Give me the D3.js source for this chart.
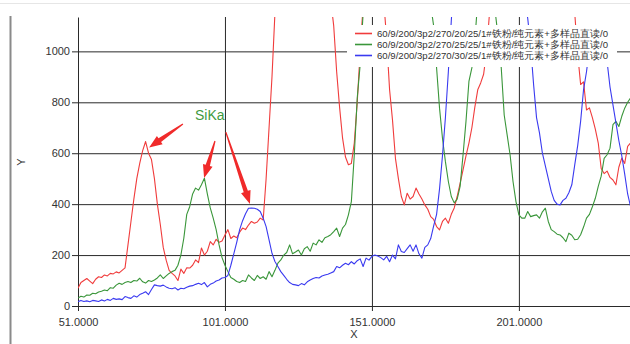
<!DOCTYPE html>
<html>
<head>
<meta charset="utf-8">
<script src="https://cdn.jsdelivr.net/npm/d3@7"></script>
<style>
  html, body { margin: 0; padding: 0; background: #fff; }
  svg { display: block; }
  text { font-family: "Liberation Sans", Arial, sans-serif; }
</style>
</head>
<body>
<svg id="chart" width="630" height="344"></svg>
<script>
// Spectrum channels (X) and intensities (Y) for the three scan settings
const channelStart = 51, channelEnd = 239;
const channels = d3.range(channelStart, channelEnd + 1, 1);

const seriesNames = [
  "60/9/200/3p2/270/20/25/1#铁粉/纯元素+多样品直读/0",
  "60/9/200/3p2/270/25/25/1#铁粉/纯元素+多样品直读/0",
  "60/9/200/3p2/270/30/25/1#铁粉/纯元素+多样品直读/0"
];
const seriesColors = ["#f03c3c", "#3a963a", "#3a3af0"];

const red = [
  70, 92, 100, 108, 98, 88, 105, 115, 112, 122,
  118, 128, 126, 134, 130, 140, 150, 240, 330, 420,
  500, 560, 610, 646, 600, 575, 500, 400, 320, 230,
  180, 140, 128, 118, 100, 145, 128, 150, 149, 160,
  181, 170, 228, 200, 215, 253, 240, 262, 250, 255,
  279, 300, 265, 275, 268, 290, 306, 300, 318, 332,
  325, 330, 345, 338, 500, 700, 900, 1150, 1450, 1750,
  2050, 2300, 2500, 2650, 2750, 2800, 2780, 2700, 2550, 2400,
  2200, 2000, 1800, 1600, 1450, 1300, 1200, 1100, 920, 780,
  660, 585, 555, 560, 640, 800, 1000, 1180, 1400, 1600,
  1700, 1650, 1500, 1350, 1200, 1050, 850, 730, 580, 500,
  430, 397, 443, 420, 430, 463, 440, 420, 397, 380,
  351, 340, 312, 299, 332, 345, 325, 360, 385, 430,
  482, 535, 590, 640, 700, 780, 849, 876, 910, 1000,
  1150, 1300, 1450, 1600, 1700, 1800, 1850, 1800, 1700, 1600,
  1500, 1450, 1500, 1600, 1750, 1900, 2000, 2050, 2000, 1900,
  1800, 1650, 1500, 1400, 1300, 1250, 1200, 1180, 1160, 1150,
  990, 870, 880, 770, 778, 740, 695, 640, 540, 520,
  530, 505, 495, 476, 545, 581, 560, 627, 640
];

const green = [
  31, 38, 35, 43, 42, 50, 48, 55, 58, 63,
  60, 72, 70, 82, 89, 85, 92, 96, 92, 100,
  98, 109, 95, 90, 100, 96, 102, 110, 122, 108,
  118, 128, 135, 140, 160, 200, 266, 360, 390, 440,
  463, 455, 476, 502, 440, 385, 345, 300, 240, 190,
  160, 135, 112, 105, 96, 92, 100, 96, 122, 110,
  100, 120, 108, 115, 105, 135, 115, 140, 168, 181,
  200, 210, 240, 205, 212, 220, 200, 225, 233, 215,
  247, 240, 260, 250, 268, 273, 280, 292, 306, 273,
  306, 320, 358, 410, 594, 817, 948, 1150, 1400, 1650,
  1900, 2100, 2250, 2350, 2400, 2380, 2300, 2200, 2050, 1900,
  1750, 1600, 1500, 1400, 1350, 1300, 1280, 1260, 1240, 1220,
  1180, 1100, 935, 777, 659, 567, 489, 430, 405, 420,
  470, 594, 725, 882, 935, 1040, 1200, 1400, 1500, 1550,
  1500, 1350, 1150, 1050, 935, 750, 672, 594, 489, 410,
  358, 345, 345, 371, 351, 355, 358, 345, 370, 384,
  332, 300, 292, 282, 279, 268, 253, 286, 278, 260,
  262, 280, 310, 345, 360, 390, 423, 470, 510, 580,
  594, 620, 712, 725, 705, 745, 777, 800, 817
];

const blue = [
  17, 22, 18, 20, 17, 22, 20, 18, 24, 20,
  26, 22, 30, 26, 28, 25, 37, 33, 30, 40,
  35, 45, 50, 56, 45, 65, 83, 80, 78, 82,
  75, 70, 68, 72, 63, 70, 68, 74, 78, 80,
  85, 89, 84, 92, 75, 85, 90, 98, 102, 110,
  112, 120, 160, 205, 250, 300, 335, 362, 384, 385,
  384, 380, 371, 345, 312, 260, 207, 175, 155, 135,
  120, 105, 92, 85, 83, 80, 88, 83, 95, 102,
  108, 112, 110, 118, 122, 125, 130, 135, 155, 150,
  160, 168, 162, 174, 165, 178, 185, 155, 188, 180,
  195, 200, 196, 190, 181, 195, 174, 200, 185, 240,
  214, 210, 225, 240, 215, 240, 205, 188, 230, 240,
  265, 315, 360, 460, 590, 740, 920, 1120, 1300, 1500,
  1700, 1900, 2050, 2150, 2200, 2150, 2050, 1950, 1850, 1750,
  1700, 1680, 1700, 1750, 1800, 1780, 1700, 1600, 1500, 1400,
  1300, 1250, 1200, 1130, 1020, 870, 740, 680, 600, 550,
  500, 450, 415, 400, 397, 415, 423, 445, 476, 554,
  630, 725, 850, 920, 1010, 1050, 1070, 1060, 1040, 1000,
  960, 860, 790, 720, 650, 590, 518, 440, 390
];

const yTicks = [0, 200, 400, 600, 800, 1000];
const xTicks = [51, 101, 151, 201];

// Peak callouts: label position and arrows (tail -> tip) in data units
const calloutLabel = { text: "SiKa", x: 90.8, y: 731 };
const calloutArrows = [
  { from: [86.7, 715], to: [75.2, 622] },
  { from: [97.6, 648], to: [93.9, 503] },
  { from: [101.3, 683], to: [109.5, 401] }
];

const svg = d3.select("#chart");
const plot = { left: 78, right: 630, top: 17, bottom: 306 };

const x = d3.scaleLinear().domain([51, 238.8]).range([plot.left, plot.right]);
const y = d3.scaleLinear().domain([0, 1135]).range([plot.bottom, plot.top]);

// window frame edges
svg.append("line").attr("x1", 0).attr("x2", 630).attr("y1", 3.5).attr("y2", 3.5)
  .attr("stroke", "#e6e6e6").attr("stroke-width", 1);
svg.append("line").attr("x1", 10.5).attr("x2", 10.5).attr("y1", 16).attr("y2", 344)
  .attr("stroke", "#8a8a8a").attr("stroke-width", 2);

// grid
const gridColor = "#2a2a2a";
svg.append("g")
  .attr("transform", `translate(${plot.left},0)`)
  .call(d3.axisLeft(y).tickValues(yTicks.filter(d => d > 0))
    .tickSize(-(plot.right - plot.left)).tickFormat(""))
  .call(g => g.select(".domain").remove())
  .call(g => g.selectAll("line").attr("stroke", gridColor));
svg.append("g")
  .attr("transform", `translate(0,${plot.bottom})`)
  .call(d3.axisBottom(x).tickValues(xTicks.filter(d => d > 51))
    .tickSize(-(plot.bottom - plot.top)).tickFormat(""))
  .call(g => g.select(".domain").remove())
  .call(g => g.selectAll("line").attr("stroke", gridColor));

// axes
svg.append("g")
  .attr("transform", `translate(${plot.left},0)`)
  .call(d3.axisLeft(y).tickValues(yTicks).tickFormat(d3.format("d"))
    .tickSize(6).tickSizeOuter(0).tickPadding(2))
  .call(g => g.selectAll("line, path").attr("stroke", gridColor));
svg.append("g")
  .attr("transform", `translate(0,${plot.bottom})`)
  .call(d3.axisBottom(x).tickValues(xTicks).tickFormat(d3.format(".4f"))
    .tickSize(5).tickSizeOuter(0).tickPadding(7))
  .call(g => g.selectAll("line, path").attr("stroke", gridColor));
svg.selectAll(".tick text").attr("font-size", 11).attr("fill", "#333")
  .attr("font-family", "Liberation Sans, Arial, sans-serif");

svg.append("text").attr("x", (plot.left + plot.right) / 2).attr("y", 338)
  .attr("text-anchor", "middle").attr("font-size", 11).attr("fill", "#333").text("X");
svg.append("text").attr("transform", "translate(25,162) rotate(-90)")
  .attr("text-anchor", "middle").attr("font-size", 11).attr("fill", "#333").text("Y");

// spectra
svg.append("clipPath").attr("id", "plot-clip").append("rect")
  .attr("x", plot.left).attr("y", plot.top)
  .attr("width", plot.right - plot.left).attr("height", plot.bottom - plot.top);

const line = d3.line().x((d, i) => x(channels[i])).y(d => y(d));
const series = [red, green, blue];
svg.append("g").attr("clip-path", "url(#plot-clip)")
  .selectAll("path").data(series).join("path")
  .attr("d", line)
  .attr("fill", "none")
  .attr("stroke", (d, i) => seriesColors[i])
  .attr("stroke-width", 1.1)
  .attr("stroke-linejoin", "round");

// legend
const legend = svg.append("g");
legend.append("rect").attr("x", 347).attr("y", 25).attr("width", 270).attr("height", 42)
  .attr("fill", "#fff");
const rows = legend.selectAll("g.row").data(seriesNames).join("g")
  .attr("class", "row")
  .attr("transform", (d, i) => `translate(355,${33.5 + i * 11})`);
rows.append("line").attr("x1", 0).attr("x2", 17).attr("y1", 0).attr("y2", 0)
  .attr("stroke", (d, i) => seriesColors[i]).attr("stroke-width", 1.6);
rows.append("text").attr("x", 22).attr("y", 3.5)
  .attr("font-size", 9.6)
  .attr("font-family", "Liberation Sans, 'Noto Sans CJK SC', sans-serif")
  .attr("fill", "#333")
  .text(d => d);

// peak callouts
svg.append("text")
  .attr("x", x(calloutLabel.x)).attr("y", y(calloutLabel.y))
  .attr("font-size", 14)
  .style("fill", "#3f9a3f")
  .attr("font-family", "Liberation Sans, Arial, sans-serif")
  .text(calloutLabel.text);

function arrowPath(a) {
  const tx = x(a.from[0]), ty = y(a.from[1]);
  const px = x(a.to[0]), py = y(a.to[1]);
  const len = Math.hypot(px - tx, py - ty);
  const ux = (px - tx) / len, uy = (py - ty) / len;
  const nx = -uy, ny = ux;
  const headLen = 13, headHalf = 5, tailHalf = 0.6, neckHalf = 2.2;
  const bx = px - ux * headLen, by = py - uy * headLen;
  const pts = [
    [tx + nx * tailHalf, ty + ny * tailHalf],
    [bx + nx * neckHalf, by + ny * neckHalf],
    [bx + nx * headHalf, by + ny * headHalf],
    [px, py],
    [bx - nx * headHalf, by - ny * headHalf],
    [bx - nx * neckHalf, by - ny * neckHalf],
    [tx - nx * tailHalf, ty - ny * tailHalf]
  ];
  return "M" + pts.map(p => p.join(",")).join("L") + "Z";
}
svg.append("g").selectAll("path").data(calloutArrows).join("path")
  .attr("d", arrowPath)
  .attr("fill", "#f02a2a");
</script>
</body>
</html>
